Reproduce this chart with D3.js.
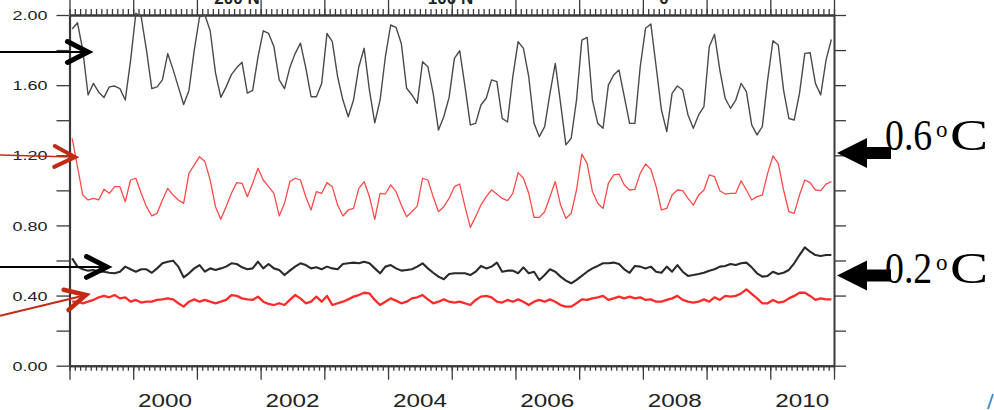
<!DOCTYPE html>
<html>
<head>
<meta charset="utf-8">
<script src="https://cdn.jsdelivr.net/npm/d3@7"></script>
<style>
  html, body { margin: 0; padding: 0; background: #fff; }
  svg { display: block; }
</style>
</head>
<body>
<svg id="chart" width="994" height="410"></svg>
<script>
// Monthly series, January 1999 through December 2010
const startYear = 1999;
const endYear = 2011;

const blackUpper = [
  1.92, 1.956, 1.80, 1.544, 1.61, 1.56, 1.53, 1.59, 1.595, 1.58,
  1.515, 1.74, 2.01, 1.99, 1.80, 1.58, 1.59, 1.63, 1.78, 1.69,
  1.59, 1.49, 1.57, 1.80, 1.99, 2.00, 1.91, 1.67, 1.53, 1.59,
  1.66, 1.70, 1.73, 1.555, 1.57, 1.76, 1.91, 1.895, 1.82, 1.63,
  1.58, 1.70, 1.78, 1.84, 1.70, 1.534, 1.534, 1.61, 1.895, 1.848,
  1.648, 1.515, 1.42, 1.515, 1.705, 1.81, 1.57, 1.385, 1.515, 1.762,
  1.943, 1.93, 1.838, 1.582, 1.544, 1.496, 1.733, 1.705, 1.553, 1.344,
  1.42, 1.53, 1.753, 1.796, 1.591, 1.373, 1.382, 1.487, 1.525, 1.63,
  1.62, 1.41, 1.39, 1.648, 1.848, 1.81, 1.648, 1.382, 1.306, 1.363,
  1.553, 1.724, 1.496, 1.259, 1.297, 1.515, 1.857, 1.873, 1.515, 1.382,
  1.354, 1.60, 1.658, 1.686, 1.534, 1.382, 1.382, 1.705, 1.924, 1.949,
  1.705, 1.458, 1.335, 1.553, 1.595, 1.572, 1.43, 1.354, 1.43, 1.477,
  1.819, 1.89, 1.686, 1.525, 1.468, 1.515, 1.61, 1.563, 1.373, 1.316,
  1.363, 1.63, 1.853, 1.829, 1.572, 1.41, 1.401, 1.553, 1.781, 1.785,
  1.61, 1.544, 1.743, 1.86
];

const redUpper = [
  1.297, 1.135, 0.973, 0.945, 0.954, 0.945, 1.006, 0.983, 1.021, 1.021,
  0.935, 1.059, 1.069, 0.983, 0.907, 0.854, 0.869, 0.945, 1.011, 0.973,
  0.945, 0.926, 1.097, 1.145, 1.192, 1.164, 1.059, 0.907, 0.835, 0.907,
  0.983, 1.044, 1.040, 0.964, 1.04, 1.126, 1.059, 1.021, 0.983, 0.854,
  0.926, 1.05, 1.069, 1.059, 0.964, 0.888, 0.993, 0.983, 1.044, 1.021,
  0.916, 0.854, 0.888, 0.897, 1.011, 1.05, 0.964, 0.835, 0.983, 0.979,
  1.031, 0.993, 0.916, 0.85, 0.878, 0.91, 1.069, 1.059, 0.964, 0.878,
  0.907, 0.954, 1.021, 1.036, 0.907, 0.789, 0.85, 0.916, 0.964, 1.002,
  0.979, 0.954, 0.941, 0.983, 1.101, 1.069, 0.983, 0.846, 0.846, 0.878,
  0.964, 1.05, 0.916, 0.84, 0.869, 1.002, 1.207, 1.154, 0.993, 0.926,
  0.897, 1.04, 1.088, 1.093, 1.031, 1.002, 1.006, 1.097, 1.15, 1.12,
  1.021, 0.888, 0.897, 0.973, 1.002, 0.998, 0.954, 0.916, 0.973, 1.002,
  1.088, 1.078, 0.998, 0.979, 0.983, 0.983, 1.055, 1.002, 0.945, 0.964,
  0.973, 1.097, 1.196, 1.154, 1.002, 0.878, 0.869, 0.973, 1.059, 1.044,
  1.002, 0.998, 1.036, 1.05
];

const blackLower = [
  0.612, 0.565, 0.55, 0.542, 0.546, 0.536, 0.536, 0.53, 0.527, 0.536,
  0.565, 0.55, 0.536, 0.55, 0.55, 0.53, 0.555, 0.584, 0.593, 0.599,
  0.565, 0.504, 0.527, 0.555, 0.574, 0.536, 0.555, 0.546, 0.555, 0.565,
  0.584, 0.58, 0.561, 0.55, 0.555, 0.593, 0.555, 0.58, 0.555, 0.546,
  0.517, 0.542, 0.565, 0.584, 0.574, 0.555, 0.561, 0.55, 0.565, 0.555,
  0.55, 0.58, 0.584, 0.588, 0.584, 0.593, 0.584, 0.555, 0.527, 0.565,
  0.574, 0.555, 0.542, 0.546, 0.55, 0.565, 0.584, 0.555, 0.53, 0.508,
  0.493, 0.523, 0.527, 0.527, 0.527, 0.517, 0.536, 0.569, 0.555, 0.565,
  0.588, 0.536, 0.542, 0.542, 0.527, 0.561, 0.527, 0.536, 0.489, 0.517,
  0.55, 0.536, 0.508, 0.485, 0.47, 0.489, 0.512, 0.536, 0.555, 0.569,
  0.584, 0.584, 0.588, 0.58, 0.55, 0.53, 0.569, 0.565, 0.555, 0.565,
  0.536, 0.53, 0.565, 0.536, 0.574, 0.536, 0.512, 0.517, 0.523, 0.53,
  0.542, 0.55, 0.565, 0.569, 0.58, 0.574, 0.584, 0.588, 0.561, 0.527,
  0.508, 0.512, 0.536, 0.523, 0.53, 0.546, 0.584, 0.631, 0.675, 0.65,
  0.631, 0.626, 0.631, 0.631
];

const redLower = [
  0.365, 0.365, 0.356, 0.365, 0.375, 0.39, 0.398, 0.39, 0.403, 0.384,
  0.39, 0.365, 0.375, 0.36, 0.365, 0.365, 0.375, 0.378, 0.384, 0.378,
  0.356, 0.337, 0.365, 0.378, 0.365, 0.375, 0.365, 0.356, 0.365, 0.375,
  0.403, 0.398, 0.384, 0.378, 0.375, 0.394, 0.365, 0.352, 0.346, 0.356,
  0.346, 0.375, 0.403, 0.384, 0.356, 0.365, 0.394, 0.365, 0.398, 0.346,
  0.356, 0.365, 0.378, 0.394, 0.403, 0.416, 0.412, 0.375, 0.346, 0.365,
  0.384, 0.371, 0.356, 0.365, 0.384, 0.39, 0.403, 0.378, 0.356, 0.365,
  0.378, 0.365, 0.36, 0.365, 0.356, 0.346, 0.375, 0.394, 0.398, 0.39,
  0.365, 0.36, 0.375, 0.365, 0.378, 0.365, 0.346, 0.365, 0.375, 0.365,
  0.378, 0.365, 0.346, 0.337, 0.337, 0.356, 0.378, 0.375, 0.384, 0.39,
  0.398, 0.375, 0.384, 0.394, 0.384, 0.394, 0.384, 0.39, 0.375, 0.378,
  0.365, 0.365, 0.375, 0.384, 0.398, 0.375, 0.365, 0.36, 0.365, 0.378,
  0.365, 0.39, 0.375, 0.398, 0.394, 0.398, 0.412, 0.435, 0.409, 0.384,
  0.356, 0.356, 0.375, 0.36, 0.365, 0.384, 0.398, 0.416, 0.416, 0.398,
  0.375, 0.384, 0.378, 0.378
];

const shownYearLabels = [2000, 2002, 2004, 2006, 2008, 2010];
const yTickValues = [0, 0.2, 0.4, 0.6, 0.8, 1.0, 1.2, 1.4, 1.6, 1.8, 2.0];
const yLabelValues = [0, 0.4, 0.8, 1.2, 1.6, 2.0];
const topLabelValues = [200, 100, 0];
const topLabelTexts = ["200 N", "100 N", "0"];

// Annotation levels (data units) and their texts
const bracketLevels = [1.213, 0.514];
const bracketTexts = ["0.6", "0.2"];

// ---------------------------------------------------------------
const svg = d3.select("#chart");
svg.append("rect").attr("width", 994).attr("height", 410).attr("fill", "#fff");

const x = d3.scaleLinear().domain([startYear, endYear]).range([69.5, 834]);
const y = d3.scaleLinear().domain([0, 2]).range([365.7, 15]);
const topScale = d3.scaleLinear().domain([200, 0]).range([237, 664]);

const monthTicks = d3.range(0, (endYear - startYear) * 12 + 1).map(k => startYear + k / 12);
const yearTicks = d3.range(startYear, endYear + 1);

const axisColor = "#3a3a3a";
const fontSans = "'Liberation Sans', Arial, Helvetica, sans-serif";

function styleAxis(g, w) {
  g.select(".domain").attr("stroke", axisColor).attr("stroke-width", w);
  g.selectAll(".tick line").attr("stroke", axisColor).attr("stroke-width", 1.3);
}

// Bottom axis: monthly minor ticks, yearly major ticks
const bottomMinor = svg.append("g").attr("transform", `translate(0,${y(0)})`)
  .call(d3.axisBottom(x).tickValues(monthTicks).tickSize(5).tickSizeOuter(0).tickFormat(""));
styleAxis(bottomMinor, 2);
const bottomMajor = svg.append("g").attr("transform", `translate(0,${y(0)})`)
  .call(d3.axisBottom(x).tickValues(yearTicks).tickSize(14).tickSizeOuter(0).tickFormat(""));
styleAxis(bottomMajor, 2);

// Year labels centred in each year
svg.append("g").selectAll("text").data(shownYearLabels).join("text")
  .attr("x", d => x(d + 0.5))
  .attr("y", 407)
  .attr("text-anchor", "middle")
  .attr("font-family", fontSans)
  .attr("font-size", 19)
  .attr("fill", "#222")
  .attr("textLength", 54)
  .attr("lengthAdjust", "spacingAndGlyphs")
  .text(d => d);

// Top axis: ticks point outward
const topMinor = svg.append("g").attr("transform", `translate(0,${y(2)})`)
  .call(d3.axisTop(x).tickValues(monthTicks).tickSize(6).tickSizeOuter(0).tickFormat(""));
styleAxis(topMinor, 2);
const topMajor = svg.append("g").attr("transform", `translate(0,${y(2)})`)
  .call(d3.axisTop(x).tickValues(yearTicks).tickSize(15).tickSizeOuter(0).tickFormat(""));
styleAxis(topMajor, 2);

svg.append("g").selectAll("text").data(topLabelValues).join("text")
  .attr("x", d => topScale(d))
  .attr("y", 4)
  .attr("text-anchor", "middle")
  .attr("font-family", fontSans)
  .attr("font-weight", "bold")
  .attr("font-size", 17)
  .attr("fill", "#222")
  .text((d, i) => topLabelTexts[i]);

// Left axis with labels every 0.4
const leftAxis = svg.append("g").attr("transform", `translate(${x(startYear)},0)`)
  .call(d3.axisLeft(y).tickValues(yTickValues).tickSize(13).tickSizeOuter(0).tickPadding(9)
    .tickFormat(d => yLabelValues.some(v => Math.abs(v - d) < 1e-6) ? d.toFixed(2) : ""));
styleAxis(leftAxis, 2.2);
leftAxis.selectAll("text")
  .attr("font-family", fontSans)
  .attr("font-size", 13)
  .attr("fill", "#222")
  .attr("dy", "0.36em")
  .each(function () {
    if (this.textContent) d3.select(this).attr("textLength", 35).attr("lengthAdjust", "spacingAndGlyphs");
  });

// Right axis
const rightAxis = svg.append("g").attr("transform", `translate(${x(endYear)},0)`)
  .call(d3.axisRight(y).tickValues(yTickValues).tickSize(12).tickSizeOuter(0).tickFormat(""));
styleAxis(rightAxis, 2);

// Series lines
const monthX = i => x(startYear + (i + 0.5) / 12);
const line = d3.line().x((d, i) => monthX(i)).y(d => y(d)).curve(d3.curveLinear);

const seriesDefs = [
  { data: blackUpper, color: "#4a4a4a", width: 1.4 },
  { data: redUpper, color: "#ff4a4a", width: 1.3 },
  { data: blackLower, color: "#2a2a2a", width: 2.1 },
  { data: redLower, color: "#ff2a2a", width: 2.3 }
];
svg.append("g").selectAll("path").data(seriesDefs).join("path")
  .attr("d", d => line(d.data))
  .attr("fill", "none")
  .attr("stroke", d => d.color)
  .attr("stroke-width", d => d.width)
  .attr("stroke-linejoin", "round");

// Pointer arrows on the left, each pointing at a series
const pointers = [
  { x0: 0, v0: 1.789, x1: 88, v1: 1.789, color: "#000", lw: 2, hw: 5 },
  { x0: 0, v0: 1.202, x1: 75, v1: 1.19, color: "#c42a12", lw: 1.6, hw: 4 },
  { x0: 0, v0: 0.563, x1: 107, v1: 0.563, color: "#000", lw: 2, hw: 5 },
  { x0: 0, v0: 0.284, x1: 86, v1: 0.403, color: "#c42a12", lw: 2, hw: 4.5 }
];
const pg = svg.append("g");
pointers.forEach(p => {
  const ax = p.x0, ay = y(p.v0), bx = p.x1, by = y(p.v1);
  const ang = Math.atan2(by - ay, bx - ax);
  const len = 23, spread = 0.47;
  const a1 = [bx - len * Math.cos(ang - spread), by - len * Math.sin(ang - spread)];
  const a2 = [bx - len * Math.cos(ang + spread), by - len * Math.sin(ang + spread)];
  pg.append("line").attr("x1", ax).attr("y1", ay).attr("x2", bx - 3 * Math.cos(ang)).attr("y2", by - 3 * Math.sin(ang))
    .attr("stroke", p.color).attr("stroke-width", p.lw);
  pg.append("path").attr("d", `M${a1[0]},${a1[1]}L${bx},${by}L${a2[0]},${a2[1]}`)
    .attr("fill", "none").attr("stroke", p.color).attr("stroke-width", p.hw)
    .attr("stroke-linejoin", "miter").attr("stroke-linecap", "round");
});

// Block arrows and amplitude labels on the right
const rg = svg.append("g");
const serif = "'Liberation Serif', 'Times New Roman', Times, serif";
bracketLevels.forEach((v, i) => {
  const cy = y(v);
  const tip = x(endYear) + 3;
  const headEnd = tip + 30, tailEnd = tip + 54;
  const pts = [
    [tip, cy], [headEnd, cy - 15], [headEnd, cy - 6], [tailEnd, cy - 6],
    [tailEnd, cy + 6], [headEnd, cy + 6], [headEnd, cy + 15]
  ];
  rg.append("polygon").attr("points", pts.map(p => p.join(",")).join(" ")).attr("fill", "#000");

  const base = cy + (i === 0 ? -3 : 7);
  // value, superscript "o" and "C", each horizontally scaled to the label's proportions
  rg.append("text").attr("transform", `translate(885,${base}) scale(0.86,1)`)
    .attr("font-family", serif).attr("font-size", 44).attr("fill", "#000")
    .text(bracketTexts[i]);
  rg.append("text").attr("transform", `translate(936,${base - 13})`)
    .attr("font-family", serif).attr("font-size", 23).attr("fill", "#000")
    .text("o");
  rg.append("text").attr("transform", `translate(950,${base}) scale(1.3,1)`)
    .attr("font-family", serif).attr("font-size", 44).attr("fill", "#000")
    .text("C");
});

// Small blue stroke at the lower right corner
svg.append("path").attr("d", "M988,409L993,394").attr("stroke", "#3d8fd0").attr("stroke-width", 2).attr("fill", "none");
</script>
</body>
</html>
